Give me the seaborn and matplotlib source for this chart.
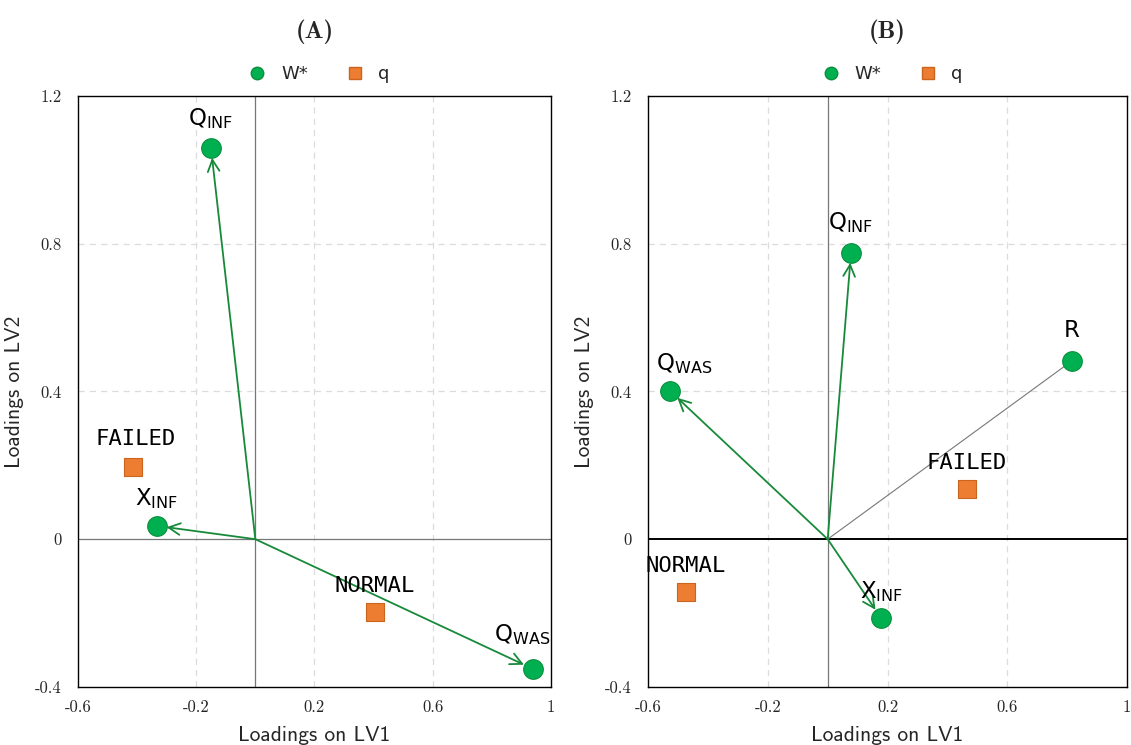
import matplotlib
matplotlib.use("Agg")
import matplotlib.pyplot as plt
import seaborn as sns
import pandas as pd
from matplotlib.lines import Line2D

# ---- loadings, panel (A) ----
w_names_a = ["Q_INF", "X_INF", "Q_WAS"]
w_lv1_a = [-0.150, -0.333, 0.939]
w_lv2_a = [1.059, 0.036, -0.351]
q_names_a = ["FAILED", "NORMAL"]
q_lv1_a = [-0.414, 0.404]
q_lv2_a = [0.196, -0.197]

# ---- loadings, panel (B) ----
w_names_b = ["Q_INF", "Q_WAS", "R", "X_INF"]
w_lv1_b = [0.078, -0.526, 0.816, 0.178]
w_lv2_b = [0.775, 0.401, 0.483, -0.213]
q_names_b = ["FAILED", "NORMAL"]
q_lv1_b = [0.464, -0.473]
q_lv2_b = [0.136, -0.143]

x_ticks = [-0.6, -0.2, 0.2, 0.6, 1.0]
x_tick_labels = ["-0.6", "-0.2", "0.2", "0.6", "1"]
y_ticks = [-0.4, 0.0, 0.4, 0.8, 1.2]
y_tick_labels = ["-0.4", "0", "0.4", "0.8", "1.2"]

GREEN = "#00B050"
GREEN_EDGE = "#0A8F3C"
ARROW = "#178A3A"
ORANGE = "#ED7D31"
ORANGE_EDGE = "#C9651F"

sns.set_theme(style="white")
plt.rcParams["axes.unicode_minus"] = False
plt.rcParams["mathtext.fontset"] = "dejavusans"

pretty = {
    "Q_INF": r"Q$_\mathregular{INF}$",
    "X_INF": r"X$_\mathregular{INF}$",
    "Q_WAS": r"Q$_\mathregular{WAS}$",
    "R": "R",
}

fig = plt.figure(figsize=(11.31, 7.45), dpi=100)
ax_a = fig.add_axes([0.069, 0.078, 0.418, 0.793])
ax_b = fig.add_axes([0.573, 0.078, 0.4235, 0.793])


def draw_panel(ax, title, w_names, w_x, w_y, q_names, q_x, q_y,
               w_offsets, q_offsets, plain_vectors=(), bold_hline=False):
    ax.set_xlim(-0.6, 1.0)
    ax.set_ylim(-0.4, 1.2)

    # dashed grid at the labelled interior ticks
    for xv in x_ticks[1:-1]:
        ax.axvline(xv, color="#dcdcdc", lw=0.9, ls=(0, (5, 4)), zorder=0)
    for yv in y_ticks[2:-1]:
        ax.axhline(yv, color="#dcdcdc", lw=0.9, ls=(0, (5, 4)), zorder=0)
    ax.axvline(0, color="#777777", lw=0.9, zorder=1)
    if bold_hline:
        ax.axhline(0, color="black", lw=1.4, zorder=1)
    else:
        ax.axhline(0, color="#777777", lw=0.9, zorder=1)

    # vectors from the origin to each weight loading
    for name, xv, yv in zip(w_names, w_x, w_y):
        if name in plain_vectors:
            ax.plot([0, xv], [0, yv], color="#777777", lw=0.8, zorder=2)
        else:
            ax.annotate("", xy=(xv, yv), xytext=(0, 0),
                        arrowprops=dict(arrowstyle="->,head_length=0.6,head_width=0.3",
                                        color=ARROW, lw=1.3, shrinkA=0, shrinkB=7,
                                        mutation_scale=14),
                        zorder=2)

    df = pd.DataFrame({
        "LV1": list(w_x) + list(q_x),
        "LV2": list(w_y) + list(q_y),
        "kind": ["W*"] * len(w_x) + ["q"] * len(q_x),
    })
    sns.scatterplot(data=df[df.kind == "W*"], x="LV1", y="LV2", ax=ax,
                    color=GREEN, edgecolor=GREEN_EDGE, linewidth=0.8,
                    marker="o", s=200, zorder=3, legend=False)
    sns.scatterplot(data=df[df.kind == "q"], x="LV1", y="LV2", ax=ax,
                    color=ORANGE, edgecolor=ORANGE_EDGE, linewidth=0.8,
                    marker="s", s=170, zorder=3, legend=False)

    for name, xv, yv in zip(w_names, w_x, w_y):
        dx, dy = w_offsets.get(name, (0, 21))
        ax.annotate(pretty[name], xy=(xv, yv), xytext=(dx, dy),
                    textcoords="offset points", ha="center", va="center",
                    fontsize=16.5, color="black", family="DejaVu Sans", zorder=4)
    for name, xv, yv in zip(q_names, q_x, q_y):
        dx, dy = q_offsets.get(name, (0, 19))
        ax.annotate(name, xy=(xv, yv), xytext=(dx, dy),
                    textcoords="offset points", ha="center", va="center",
                    fontsize=16, color="black", family="DejaVu Sans Mono", zorder=4)

    ax.set_xticks(x_ticks)
    ax.set_xticklabels(x_tick_labels, family="cmr10", fontsize=12)
    ax.set_yticks(y_ticks)
    ax.set_yticklabels(y_tick_labels, family="cmr10", fontsize=12)
    ax.tick_params(axis="x", length=0, pad=9)
    ax.tick_params(axis="y", length=0, pad=12)
    ax.set_xlabel("Loadings on LV1", family="cmss10", fontsize=15.5, labelpad=8)
    ax.set_ylabel("Loadings on LV2", family="cmss10", fontsize=15.5, labelpad=8)
    for sp in ax.spines.values():
        sp.set_visible(True)
        sp.set_color("black")
        sp.set_linewidth(1.0)

    handles = [
        Line2D([], [], marker="o", ls="none", markersize=9,
               markerfacecolor=GREEN, markeredgecolor=GREEN_EDGE, label="W*"),
        Line2D([], [], marker="s", ls="none", markersize=9,
               markerfacecolor=ORANGE, markeredgecolor=ORANGE_EDGE, label="q"),
    ]
    ax.legend(handles=handles, loc="lower center", bbox_to_anchor=(0.5, 1.0),
              ncol=2, frameon=False, fontsize=13, handletextpad=0.3,
              columnspacing=1.6, borderaxespad=0.3)
    ax.set_title(title, family="cmb10", fontsize=18, pad=42)


draw_panel(ax_a, "(A)", w_names_a, w_lv1_a, w_lv2_a, q_names_a, q_lv1_a, q_lv2_a,
           w_offsets={"Q_INF": (0, 21), "X_INF": (0, 20), "Q_WAS": (-8, 25)},
           q_offsets={"FAILED": (2, 20), "NORMAL": (0, 19)})
draw_panel(ax_b, "(B)", w_names_b, w_lv1_b, w_lv2_b, q_names_b, q_lv1_b, q_lv2_b,
           w_offsets={"Q_INF": (0, 22), "Q_WAS": (10, 20), "R": (0, 22), "X_INF": (0, 19)},
           q_offsets={"FAILED": (0, 19), "NORMAL": (0, 19)},
           plain_vectors=("R",), bold_hline=True)

fig.savefig("out.png", dpi=100)
